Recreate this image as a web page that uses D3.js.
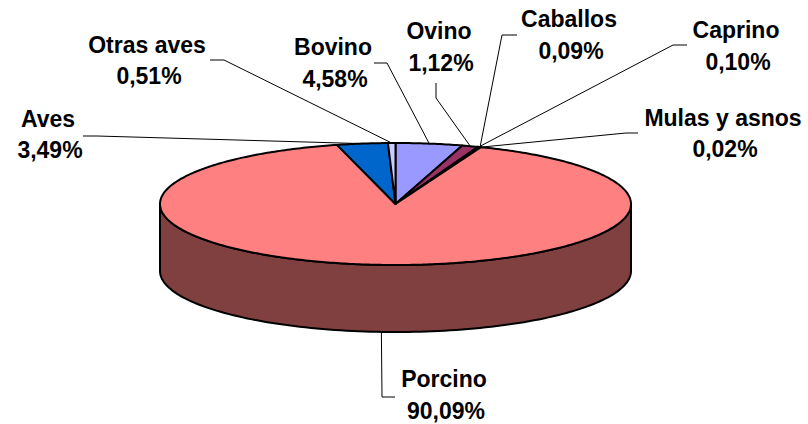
<!DOCTYPE html>
<html>
<head>
<meta charset="utf-8">
<script src="https://cdn.jsdelivr.net/npm/d3@7"></script>
<style>
  html, body { margin: 0; padding: 0; background: #fff; }
  svg { display: block; }
  text { font-family: "Liberation Sans", Arial, sans-serif; font-weight: bold; font-size: 23px; fill: #000; }
</style>
</head>
<body>
<svg id="chart" width="808" height="424"></svg>
<script>
// ---- data ----
const categories = ["Bovino", "Ovino", "Caprino", "Caballos", "Mulas y asnos", "Porcino", "Aves", "Otras aves"];
const values     = [4.58, 1.12, 0.10, 0.09, 0.02, 90.09, 3.49, 0.51];
const valueLabels = ["4,58%", "1,12%", "0,10%", "0,09%", "0,02%", "90,09%", "3,49%", "0,51%"];

// ---- styling / layout (not data) ----
const colors = ["#9999FF", "#993366", "#FFFFCC", "#CCFFFF", "#660066", "#FF8080", "#0066CC", "#CCCCFF"];
const sideColors = ["#4D4D80", "#4D1A33", "#808066", "#668080", "#330033", "#804040", "#003366", "#666680"];
const cx = 395.5, cy = 204, rx = 235.5, ry = 61, depth = 67;

// label layout: centre x, first baseline, second baseline, leader anchor + elbow
const labelLayout = {
  "Bovino":        { x: 333, y1: 55,  y2: 87,  line: [[374, 63], [387, 63]] },
  "Ovino":         { x: 439, y1: 39,  y2: 71,  line: [[436, 83], [436, 98]] },
  "Caprino":       { x: 736, y1: 38,  y2: 70,  line: [[687, 45], [673, 45]] },
  "Caballos":      { x: 569, y1: 27,  y2: 59,  line: [[517, 35], [502, 35]] },
  "Mulas y asnos": { x: 723, y1: 126, y2: 157, line: [[638, 133], [626, 133]] },
  "Porcino":       { x: 444, y1: 387, y2: 419, line: [[395, 397], [382, 397]] },
  "Aves":          { x: 48,  y1: 127, y2: 158, line: [[83, 136], [97, 136]] },
  "Otras aves":    { x: 147, y1: 53,  y2: 84,  line: [[210, 60], [224, 60]] }
};

const svg = d3.select("#chart");

const pie = d3.pie().sort(null).value(d => d.value);
const arcs = pie(categories.map((c, i) => ({ name: c, value: values[i], label: valueLabels[i], color: colors[i], side: sideColors[i] })));

// projection of pie angle (clockwise from 12 o'clock) onto the tilted ellipse
const px = a => cx + rx * Math.sin(a);
const py = a => cy - ry * Math.cos(a);

// ---- side wall (front half, visible from angle PI/2 to 3PI/2) ----
const sideStart = Math.PI / 2, sideEnd = 3 * Math.PI / 2;
arcs.forEach(d => {
  const a0 = Math.max(d.startAngle, sideStart), a1 = Math.min(d.endAngle, sideEnd);
  if (a1 <= a0) return;
  const n = 120;
  const ang = d3.range(n + 1).map(k => a0 + (a1 - a0) * k / n);
  const top = ang.map(a => [px(a), py(a)]);
  const bot = ang.slice().reverse().map(a => [px(a), py(a) + depth]);
  svg.append("path")
    .attr("d", d3.line()(top.concat(bot)) + "Z")
    .attr("fill", d.data.side)
    .attr("stroke", "#000")
    .attr("stroke-width", 2)
    .attr("stroke-linejoin", "round");
});

// ---- top face slices ----
arcs.forEach(d => {
  const n = Math.max(4, Math.ceil((d.endAngle - d.startAngle) * 80));
  const pts = d3.range(n + 1).map(k => {
    const a = d.startAngle + (d.endAngle - d.startAngle) * k / n;
    return [px(a), py(a)];
  });
  svg.append("path")
    .attr("d", d3.line()([[cx, cy]].concat(pts)) + "Z")
    .attr("fill", d.data.color)
    .attr("stroke", "#000")
    .attr("stroke-width", 2)
    .attr("stroke-linejoin", "round");
});

// ---- leader lines ----
arcs.forEach(d => {
  const L = labelLayout[d.data.name];
  const mid = (d.startAngle + d.endAngle) / 2;
  let end = [px(mid), py(mid)];
  if (Math.cos(mid) < 0) end = [end[0], end[1] + depth];
  svg.append("path")
    .attr("d", d3.line()([L.line[0], L.line[1], end]))
    .attr("fill", "none")
    .attr("stroke", "#000")
    .attr("stroke-width", 1);
});

// ---- labels ----
arcs.forEach(d => {
  const L = labelLayout[d.data.name];
  const t = svg.append("text").attr("text-anchor", "middle");
  t.append("tspan").attr("x", L.x).attr("y", L.y1).text(d.data.name);
  t.append("tspan").attr("x", L.x + 2).attr("y", L.y2).text(d.data.label);
});
</script>
</body>
</html>
